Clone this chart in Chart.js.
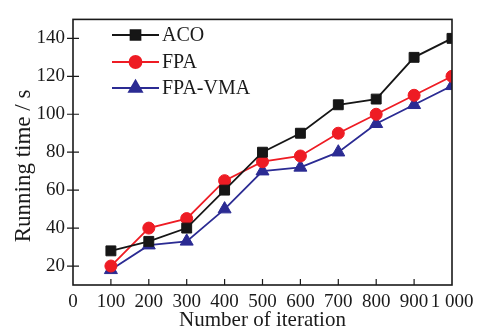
<!DOCTYPE html>
<html>
<head>
<meta charset="utf-8">
<script src="https://cdn.jsdelivr.net/npm/chart.js@4/dist/chart.umd.min.js"></script>
<style>
  html, body { margin: 0; padding: 0; background: #fff; }
  #wrap { width: 492px; height: 334px; position: relative; }
</style>
</head>
<body>
<div id="wrap"><canvas id="chart"></canvas></div>
<script>
const iterations = [100, 200, 300, 400, 500, 600, 700, 800, 900, 1000];
const acoTimes = [28, 33, 40, 60, 80, 90, 105, 108, 130, 140];
const fpaTimes = [20, 40, 45, 65, 75, 78, 90, 100, 110, 120];
const fpaVmaTimes = [18, 31, 33, 50, 70, 72, 80, 95, 105, 115];
const yTicks = [20, 40, 60, 80, 100, 120, 140];
const xTicks = [0, 100, 200, 300, 400, 500, 600, 700, 800, 900, 1000];
const yTitle = 'Running time / s';

const serif = '"Liberation Serif", "DejaVu Serif", serif';
const axisColor = '#1a1a1a';

const toPoints = (ys) => iterations.map((x, i) => ({x: x, y: ys[i]}));

const series = [
    {label: 'ACO', data: acoTimes, color: '#161616', style: 'rect', r: 7},
    {label: 'FPA', data: fpaTimes, color: '#ee1c24', style: 'circle', r: 6},
    {label: 'FPA-VMA', data: fpaVmaTimes, color: '#2b2b93', style: 'triangle', r: 7.5}
];

// frame, tick marks, y title and the in-plot legend
const framePlugin = {
    id: 'frame',
    afterDraw(chart) {
        const ctx = chart.ctx;
        const a = chart.chartArea;
        const xs = chart.scales.x, ys = chart.scales.y;
        ctx.save();
        ctx.strokeStyle = axisColor;
        ctx.lineWidth = 1.6;
        ctx.strokeRect(a.left, a.top, a.right - a.left, a.bottom - a.top);
        ctx.lineWidth = 1.2;
        ctx.beginPath();
        xTicks.forEach(v => {
            if (v === 0 || v === 1000) return;
            const px = xs.getPixelForValue(v);
            ctx.moveTo(px, a.bottom);
            ctx.lineTo(px, a.bottom - 6);
        });
        yTicks.forEach(v => {
            const py = ys.getPixelForValue(v);
            ctx.moveTo(a.left - 6, py);
            ctx.lineTo(a.left + 6, py);
        });
        ctx.stroke();

        // y axis title (sits a bit below the plot centre in the original)
        ctx.save();
        ctx.translate(24, 166);
        ctx.rotate(-Math.PI / 2);
        ctx.fillStyle = '#1a1a1a';
        ctx.font = '23px ' + serif;
        ctx.textAlign = 'center';
        ctx.textBaseline = 'middle';
        ctx.fillText(yTitle, 0, 0);
        ctx.restore();

        // legend
        const lx0 = 112, lx1 = 159, tx = 162;
        const rows = [35, 62, 88];
        series.forEach((s, i) => {
            const y = rows[i];
            ctx.strokeStyle = s.color;
            ctx.lineWidth = 1.8;
            ctx.beginPath();
            ctx.moveTo(lx0, y);
            ctx.lineTo(lx1, y);
            ctx.stroke();
            ctx.fillStyle = s.color;
            Chart.helpers.drawPoint(ctx, {pointStyle: s.style, radius: s.r, borderWidth: 1, rotation: 0}, (lx0 + lx1) / 2, y);
            ctx.fill();
            ctx.fillStyle = '#1a1a1a';
            ctx.font = '20px ' + serif;
            ctx.textBaseline = 'middle';
            ctx.fillText(s.label, tx, y + 1);
        });
        ctx.restore();
    }
};

new Chart(document.getElementById('chart'), {
    type: 'line',
    data: {
        datasets: series.map(s => ({
            label: s.label,
            data: toPoints(s.data),
            borderColor: s.color,
            backgroundColor: s.color,
            borderWidth: 1.8,
            pointStyle: s.style,
            pointRadius: s.r,
            pointBorderWidth: 1,
            pointBorderColor: s.color,
            pointBackgroundColor: s.color,
            tension: 0
        }))
    },
    options: {
        responsive: true,
        maintainAspectRatio: false,
        animation: false,
        layout: {padding: {top: 5, right: 40, left: 0, bottom: 0}},
        plugins: {
            legend: {display: false},
            tooltip: {enabled: false}
        },
        scales: {
            x: {
                type: 'linear',
                min: 0,
                max: 1000,
                afterBuildTicks: (scale) => { scale.ticks = xTicks.map(v => ({value: v})); },
                afterFit: (scale) => { scale.height = 49; },
                grid: {display: false, drawTicks: false},
                border: {display: false},
                ticks: {
                    padding: 6,
                    color: '#1a1a1a',
                    font: {family: serif, size: 19},
                    maxRotation: 0,
                    autoSkip: false,
                    callback: (v) => v === 1000 ? '1 000' : String(v)
                },
                title: {
                    display: true,
                    text: 'Number of iteration',
                    color: '#1a1a1a',
                    font: {family: serif, size: 21, lineHeight: 1},
                    padding: {top: 0, bottom: 3}
                }
            },
            y: {
                min: 10,
                max: 150,
                afterBuildTicks: (scale) => { scale.ticks = yTicks.map(v => ({value: v})); },
                afterFit: (scale) => { scale.width = 73; },
                grid: {display: false, drawTicks: false},
                border: {display: false},
                ticks: {
                    padding: 8,
                    color: '#1a1a1a',
                    font: {family: serif, size: 19}
                },
                title: {display: false}
            }
        }
    },
    plugins: [framePlugin]
});
</script>
</body>
</html>
